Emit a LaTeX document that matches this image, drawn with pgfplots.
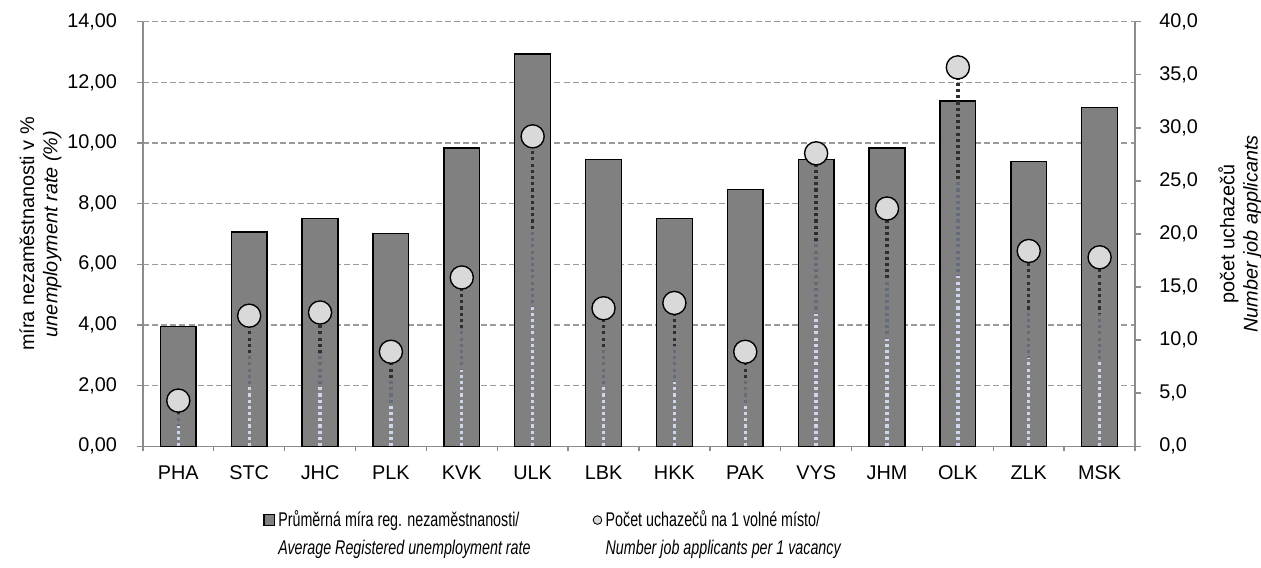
\documentclass[border=0pt]{standalone}
\usepackage{fontspec}
\setmainfont{Liberation Sans}
\newfontfamily\legfont[FakeStretch=0.72]{Liberation Sans}
\usepackage{pgfplots}
\usepackage{pgfplotstable}
\pgfplotsset{compat=1.18}
\usetikzlibrary{calc}

\definecolor{barfill}{HTML}{808080}
\definecolor{ptfill}{HTML}{D9D9D9}
\definecolor{gridc}{HTML}{9A9A9A}
\definecolor{axisc}{HTML}{8C8C8C}
\definecolor{dropA}{HTML}{2E2E2E}
\definecolor{dropB}{HTML}{646C7C}
\definecolor{dropC}{HTML}{CDD6EA}

% rate = avg registered unemployment rate (%), app = job applicants per vacancy
\pgfplotstableread{
x rate app
0  3.95  4.3
1  7.06 12.3
2  7.52 12.6
3  7.02  8.9
4  9.83 15.9
5 12.93 29.2
6  9.45 13.0
7  7.51 13.5
8  8.47  8.9
9  9.46 27.6
10 9.83 22.4
11 11.38 35.7
12 9.39 18.4
13 11.17 17.8
}\regdata

% drop lines, each one drawn upwards from 0 (keeps the dots in step)
\pgfplotstableread{
x app
0 0
0 4.3
nan nan
1 0
1 12.3
nan nan
2 0
2 12.6
nan nan
3 0
3 8.9
nan nan
4 0
4 15.9
nan nan
5 0
5 29.2
nan nan
6 0
6 13.0
nan nan
7 0
7 13.5
nan nan
8 0
8 8.9
nan nan
9 0
9 27.6
nan nan
10 0
10 22.4
nan nan
11 0
11 35.7
nan nan
12 0
12 18.4
nan nan
13 0
13 17.8
}\dropdata

\pgfplotsset{
  base/.style={
    width=575pt, height=246pt, scale only axis,
    xmin=-0.5, xmax=13.5,
    ymin=0,
    tick align=outside,
    axis line style={axisc, line width=0.8pt},
    tick style={axisc, line width=0.8pt},
    major tick length=3.5pt,
    minor tick length=3pt,
    tick label style={font=\fontsize{11.5}{13}\selectfont, black},
    label style={font=\fontsize{11.5}{13.5}\selectfont, align=center},
    /pgf/number format/assume math mode=true,
    clip=false,
  },
  drop/.style={line width=1.9pt, dash pattern=on 1.8pt off 1.8pt, forget plot,
    unbounded coords=jump, no marks},
}

\begin{document}
\begin{tikzpicture}
\begin{axis}[base, name=main,
  ymax=14, ytick={0,2,...,14},
  axis x line*=bottom, axis y line*=left,
  xtick={0,...,13},
  xticklabels={PHA,STC,JHC,PLK,KVK,ULK,LBK,HKK,PAK,VYS,JHM,OLK,ZLK,MSK},
  major x tick style={draw=none},
  minor xtick={-0.5,0.5,...,13.5},
  xticklabel style={yshift=-4pt, text height=1.6ex, text depth=0.3ex},
  ymajorgrids,
  major y grid style={gridc, line width=0.8pt, dash pattern=on 3.5pt off 1.8pt},
  yticklabel style={xshift=-8pt, /pgf/number format/.cd, fixed, fixed zerofill, precision=2, use comma},
  ylabel={míra nezaměstnanosti v \%\\\textit{unemployment rate (\%)}},
  ylabel shift=-3.5pt,
]
  \addplot[ybar, bar width=20.7pt, fill=barfill, draw=black, line width=0.8pt]
    table[x=x, y=rate]{\regdata};
\end{axis}

\begin{axis}[base,
  ymax=40, ytick={0,5,...,40},
  axis y line*=right, axis x line=none,
  yticklabel style={xshift=7pt, /pgf/number format/.cd, fixed, fixed zerofill, precision=1, use comma},
  ylabel={počet uchazečů\\\textit{Number job applicants}},
  ylabel style={yshift=-5pt},
  legend columns=2,
  legend style={at={(0.116,-0.135)}, anchor=north west, draw=none, fill=none,
    font=\legfont\fontsize{11.5}{13}\selectfont,
    row sep=2pt,
    /tikz/every even column/.append style={column sep=34pt},
    cells={anchor=west}},
]
  % drop lines, darker at the top
  \addplot[drop, dropA] table[x=x, y=app]{\dropdata};
  \addplot[drop, dropB] table[x=x, y expr=0.70*\thisrow{app}]{\dropdata};
  \addplot[drop, dropC] table[x=x, y expr=0.45*\thisrow{app}]{\dropdata};

  \addlegendimage{legend image code/.code={
    \draw[fill=barfill, draw=black, line width=0.6pt] (0pt,-3pt) rectangle (6pt,3pt);}}
  \addplot[only marks, mark=*, mark size=6.7pt,
    mark options={fill=ptfill, draw=black, line width=0.8pt},
    legend image code/.code={
      \draw[fill=ptfill, draw=black, line width=0.5pt] (2.6pt,0pt) circle (2.5pt);}]
    table[x=x, y=app]{\regdata};
  \addlegendimage{empty legend}
  \addlegendimage{empty legend}
  \legend{Průměrná míra reg. nezaměstnanosti/, Počet uchazečů na 1 volné místo/,
    \textit{Average Registered unemployment rate}, \textit{Number job applicants per 1 vacancy}}
\end{axis}

\pgfresetboundingbox
\path ($(main.south west)+(-82.8pt,-70.4pt)$) rectangle ($(main.north east)+(73pt,12.6pt)$);
\end{tikzpicture}
\end{document}
